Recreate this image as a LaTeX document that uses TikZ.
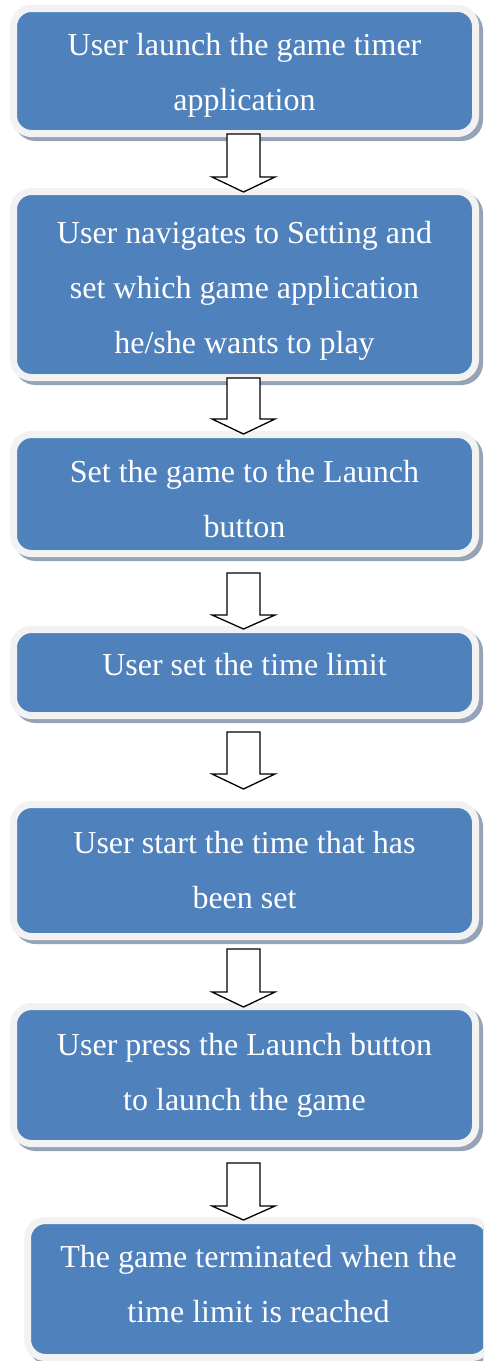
\documentclass[tikz,border=0pt]{standalone}
\usepackage{fontspec}
\setmainfont{Liberation Serif}
\usetikzlibrary{calc,shadows}
\definecolor{boxblue}{HTML}{4F81BD}
\definecolor{boxrim}{HTML}{F2F2F2}
\definecolor{boxshadow}{HTML}{95A3B6}
\tikzset{
  box/.style={rectangle, rounded corners=18pt, fill=boxblue, draw=boxrim, line width=7pt,
    minimum width=462pt, inner sep=0pt,
    general shadow={fill=boxshadow, draw=boxshadow, line width=7pt, shadow xshift=4pt, shadow yshift=-4pt}},
  txt/.style={anchor=north, align=center, text=white, inner sep=0pt,
    font=\fontsize{32}{55}\selectfont},
  arrowbody/.style={draw=black, fill=white, line width=1.3pt, line join=miter}
}
\newcommand\blockarr[3]{%
  \draw[arrowbody] ($(#1)+(-16.5,0)$) -- ($(#1)+(16.5,0)$) -- ($(#1)+(16.5,#3)$)
    -- ($(#1)+(31.5,#3)$) -- (#2) -- ($(#1)+(-31.5,#3)$) -- ($(#1)+(-16.5,#3)$) -- cycle;}
\begin{document}
\begin{tikzpicture}[x=1pt,y=-1pt]
\useasboundingbox (0,0) rectangle (483,1361);
\clip (0,0) rectangle (483,1361);
\fill[white] (0,0) rectangle (483,1361);
% boxes
\node[box, minimum height=125pt] (b1) at (244.5,71) {};
\node[box, minimum height=186pt] (b2) at (244.5,284.5) {};
\node[box, minimum height=119pt] (b3) at (244.5,494) {};
\node[box, minimum height=86pt]  (b4) at (244.5,672.5) {};
\node[box, minimum height=132pt] (b5) at (244.5,870.5) {};
\node[box, minimum height=137pt] (b6) at (244.5,1075) {};
\node[box, minimum height=137pt] (b7) at (258.5,1289) {};
% texts
\node[txt] (t1) at (244.5,33) {User launch the game timer\\application};
\node[txt] (t2) at (244.5,221) {User navigates to Setting and\\set which game application\\he/she wants to play};
\node[txt] (t3) at (244.5,459.7) {Set the game to the Launch\\button};
\node[txt] (t4) at (244.5,653) {User set the time limit};
\node[txt] (t5) at (244.5,831) {User start the time that has\\been set};
\node[txt] (t6) at (244.5,1033) {User press the Launch button\\to launch the game};
\node[txt] (t7) at (258.5,1245) {The game terminated when the\\time limit is reached};
% arrows
\coordinate (s1) at (243.5,134);  \coordinate (e1) at (243.5,192);
\coordinate (s2) at (243.5,378);  \coordinate (e2) at (243.5,434);
\coordinate (s3) at (243.5,573);  \coordinate (e3) at (243.5,629);
\coordinate (s4) at (243.5,732);  \coordinate (e4) at (243.5,789);
\coordinate (s5) at (243.5,949);  \coordinate (e5) at (243.5,1007);
\coordinate (s6) at (243.5,1163); \coordinate (e6) at (243.5,1220);
\blockarr{s1}{e1}{43}
\blockarr{s2}{e2}{41}
\blockarr{s3}{e3}{42}
\blockarr{s4}{e4}{42}
\blockarr{s5}{e5}{43}
\blockarr{s6}{e6}{43}
\end{tikzpicture}
\end{document}
